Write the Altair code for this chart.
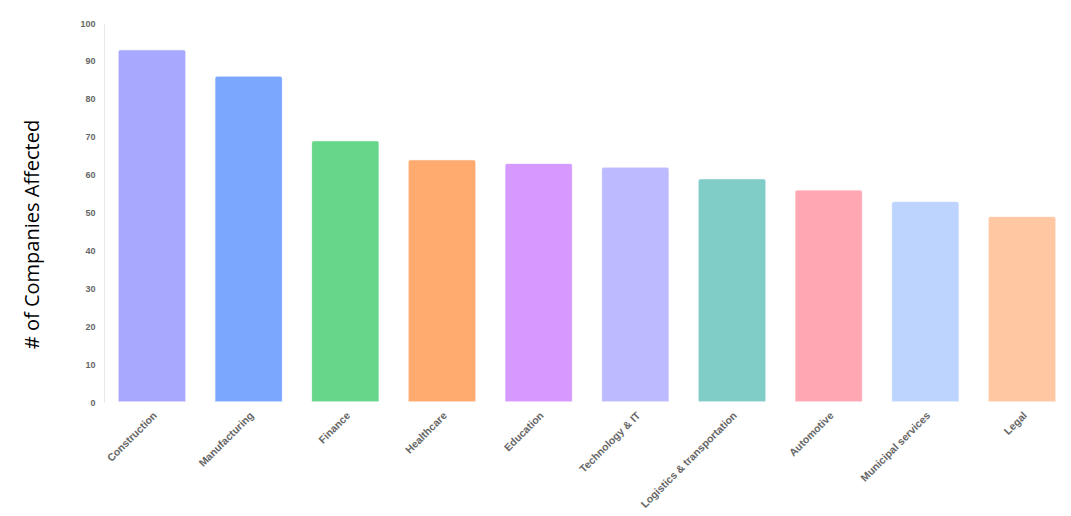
import altair as alt
import pandas as pd

categories = ["Construction", "Manufacturing", "Finance", "Healthcare", "Education",
              "Technology & IT", "Logistics & transportation", "Automotive",
              "Municipal services", "Legal"]
values = [93, 86, 69, 64, 63, 62, 59, 56, 53, 49]
colors = ["#a8a8ff", "#7ba7ff", "#66d68a", "#ffab70", "#d699ff",
          "#bdbaff", "#80ccc7", "#ffa8b4", "#bdd4ff", "#ffc8a3"]

df = pd.DataFrame({"Industry": categories, "Count": values})

chart = alt.Chart(df).mark_bar(
    cornerRadiusTopLeft=3, cornerRadiusTopRight=3,
    stroke="white", strokeOpacity=0.45, strokeWidth=1.5
).encode(
    x=alt.X("Industry:N", sort=categories, title=None,
            scale=alt.Scale(paddingInner=0.297, paddingOuter=0.1034, align=0.7),
            axis=alt.Axis(labelAngle=-45, labelAlign="right", labelBaseline="top",
                          labelFont="Liberation Sans", labelFontWeight="bold",
                          labelFontSize=10.5, labelColor="#666666", labelPadding=8,
                          domain=False, ticks=False)),
    y=alt.Y("Count:Q", title="# of Companies Affected",
            scale=alt.Scale(domain=[0, 100], nice=False),
            axis=alt.Axis(values=list(range(0, 101, 10)), grid=False, ticks=False,
                          domain=True, domainColor="#e8e8e8", domainWidth=1,
                          labelFont="Liberation Sans", labelFontWeight="bold",
                          labelFontSize=9, labelColor="#666666", labelPadding=9,
                          titleFont="Open Sans", titleFontWeight="normal",
                          titleFontSize=20, titleColor="#000000", titlePadding=37,
                          titleY=211)),
    color=alt.Color("Industry:N", sort=categories,
                    scale=alt.Scale(domain=categories, range=colors), legend=None)
).properties(
    width=958, height=379,
    padding={"left": 14, "top": 11, "right": 0, "bottom": 0}
).configure_view(stroke=None)

chart.save("out.html", embed_options={"renderer": "svg", "actions": False})
